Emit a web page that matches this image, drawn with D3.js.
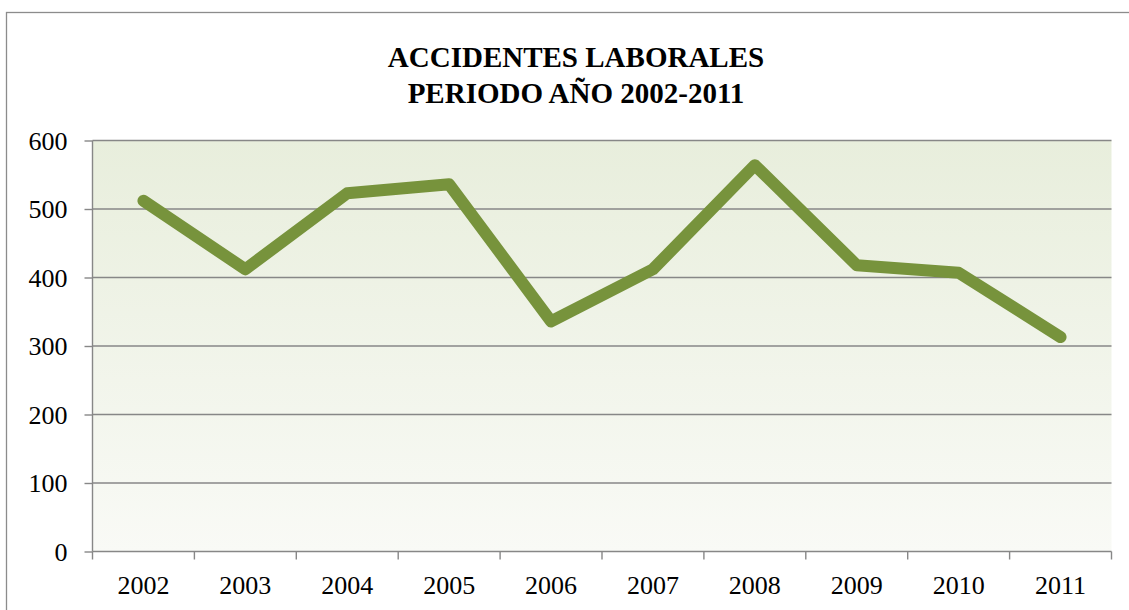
<!DOCTYPE html>
<html>
<head>
<meta charset="utf-8">
<script src="https://cdn.jsdelivr.net/npm/d3@7"></script>
<style>
  html, body { margin: 0; padding: 0; background: #fff; }
  svg { display: block; }
  text { font-family: "Liberation Serif", "DejaVu Serif", serif; fill: #000; }
</style>
</head>
<body>
<script>
(function(d3) {

  var width = 1129,
    height = 610;

  // Chart data
  var years = ['2002', '2003', '2004', '2005', '2006', '2007', '2008', '2009', '2010', '2011'];
  var accidents = [512, 412, 523, 536, 336, 412, 564, 418, 407, 313];
  var yTicks = [0, 100, 200, 300, 400, 500, 600];
  var titleLines = ['ACCIDENTES LABORALES', 'PERIODO AÑO 2002-2011'];

  // Plot area
  var plot = { left: 92.5, top: 140.5, right: 1111.5, bottom: 551.5 };

  var svg = d3.select('body').append('svg')
    .attr('width', width)
    .attr('height', height);

  var defs = svg.append('defs');
  var grad = defs.append('linearGradient')
    .attr('id', 'bg')
    .attr('x1', 0).attr('y1', 0)
    .attr('x2', 0).attr('y2', 1);
  grad.append('stop').attr('offset', '0%').attr('stop-color', '#e8eedc');
  grad.append('stop').attr('offset', '100%').attr('stop-color', '#f9faf6');

  // Outer chart frame (runs off the right and bottom edges)
  svg.append('rect')
    .attr('x', 6.5).attr('y', 12.5)
    .attr('width', width + 20).attr('height', height + 20)
    .attr('fill', '#fff')
    .attr('stroke', '#8c8c8c')
    .attr('stroke-width', 1.3);

  var x = d3.scaleBand()
    .domain(years)
    .range([plot.left, plot.right]);

  var y = d3.scaleLinear()
    .domain([0, 600])
    .range([plot.bottom, plot.top]);

  svg.append('rect')
    .attr('x', plot.left).attr('y', plot.top)
    .attr('width', plot.right - plot.left)
    .attr('height', plot.bottom - plot.top)
    .attr('fill', 'url(#bg)');

  // Horizontal gridlines
  svg.append('g').selectAll('line')
    .data(yTicks.slice(1))
    .enter().append('line')
    .attr('x1', plot.left).attr('x2', plot.right)
    .attr('y1', function(d) { return y(d); })
    .attr('y2', function(d) { return y(d); })
    .attr('stroke', '#878787')
    .attr('stroke-width', 1.4);

  // Y axis
  var yAxis = svg.append('g')
    .attr('transform', 'translate(' + plot.left + ',0)')
    .call(d3.axisLeft(y).tickValues(yTicks).tickSize(8).tickPadding(17).tickFormat(d3.format('d')));
  yAxis.selectAll('line, path').attr('stroke', '#878787').attr('stroke-width', 1.4);
  yAxis.select('.domain').attr('d', 'M0,' + plot.bottom + 'V' + plot.top);
  yAxis.selectAll('text')
    .attr('font-size', 26)
    .attr('font-family', null)
    .attr('fill', '#000')
    .attr('dy', '0.34em');

  // X axis, ticks sit on the category boundaries
  var xAxis = svg.append('g')
    .attr('transform', 'translate(0,' + plot.bottom + ')')
    .call(d3.axisBottom(x).tickSize(0).tickPadding(24));
  xAxis.select('.domain').remove();
  xAxis.selectAll('text')
    .attr('font-size', 26)
    .attr('font-family', null)
    .attr('fill', '#000');
  xAxis.append('line')
    .attr('x1', plot.left).attr('x2', plot.right)
    .attr('stroke', '#878787').attr('stroke-width', 1.4);
  xAxis.selectAll('.bound')
    .data(years.concat(['end']))
    .enter().append('line')
    .attr('class', 'bound')
    .attr('x1', function(d, i) { return plot.left + i * x.step(); })
    .attr('x2', function(d, i) { return plot.left + i * x.step(); })
    .attr('y1', 0).attr('y2', 8)
    .attr('stroke', '#878787').attr('stroke-width', 1.4);

  // The series line
  var line = d3.line()
    .x(function(d, i) { return x(years[i]) + x.bandwidth() / 2; })
    .y(function(d) { return y(d); });

  svg.append('path')
    .datum(accidents)
    .attr('d', line)
    .attr('fill', 'none')
    .attr('stroke', '#77933c')
    .attr('stroke-width', 12)
    .attr('stroke-linecap', 'round')
    .attr('stroke-linejoin', 'round');

  // Title
  svg.append('g').selectAll('text')
    .data(titleLines)
    .enter().append('text')
    .attr('x', 576)
    .attr('y', function(d, i) { return 67 + i * 36; })
    .attr('text-anchor', 'middle')
    .attr('font-size', 29)
    .attr('font-weight', 'bold')
    .text(function(d) { return d; });

})(d3);
</script>
</body>
</html>
